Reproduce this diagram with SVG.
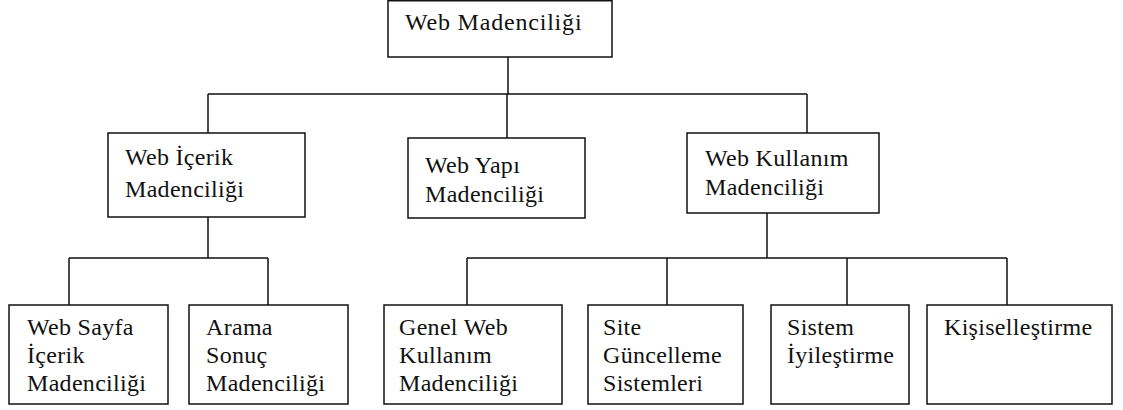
<svg xmlns="http://www.w3.org/2000/svg" width="1123" height="410" viewBox="0 0 1123 410">
<style>
.box{fill:#fff;stroke:#111;stroke-width:1.5}
.conn{fill:none;stroke:#111;stroke-width:1.5}
</style>
<rect width="1123" height="410" fill="#fff"/>
<g id="connectors" class="conn">
<path d="M508 57V94M208 94H807M208 94V133M507 94V138M807 94V133"/>
<path d="M208 217V258M69 258H268M69 258V305M268 258V305"/>
<path d="M767 213V258M467 258H1007M467 258V305M667 258V305M847 258V305M1007 258V305"/>
</g>
<g font-family="Liberation Serif, Tinos, DejaVu Serif, serif" font-size="24" fill="#111" letter-spacing="0.3">
<g id="web-madenciligi"><rect class="box" x="388" y="0.75" width="224" height="56.25"/><text x="405" y="30" letter-spacing="0.8">Web Madenciliği</text></g>
<g id="web-icerik"><rect class="box" x="108" y="133" width="197" height="84"/><text x="125" y="165">Web İçerik</text><text x="125" y="197">Madenciliği</text></g>
<g id="web-yapi"><rect class="box" x="408" y="138" width="177" height="80"/><text x="425" y="173">Web Yapı</text><text x="425" y="202">Madenciliği</text></g>
<g id="web-kullanim"><rect class="box" x="687" y="133" width="192" height="80"/><text x="705" y="166">Web Kullanım</text><text x="705" y="195">Madenciliği</text></g>
<g id="web-sayfa"><rect class="box" x="9" y="305" width="159" height="99"/><text x="27" y="335">Web Sayfa</text><text x="27" y="363">İçerik</text><text x="27" y="391">Madenciliği</text></g>
<g id="arama"><rect class="box" x="189" y="305" width="159" height="99"/><text x="206" y="335">Arama</text><text x="206" y="363">Sonuç</text><text x="206" y="391">Madenciliği</text></g>
<g id="genel-web"><rect class="box" x="384" y="305" width="178" height="99"/><text x="399" y="335">Genel Web</text><text x="399" y="363">Kullanım</text><text x="399" y="391">Madenciliği</text></g>
<g id="site"><rect class="box" x="588" y="305" width="155" height="99"/><text x="603" y="335">Site</text><text x="603" y="363">Güncelleme</text><text x="603" y="391">Sistemleri</text></g>
<g id="sistem"><rect class="box" x="771" y="305" width="138" height="99"/><text x="787" y="335">Sistem</text><text x="787" y="363">İyileştirme</text></g>
<g id="kisisel"><rect class="box" x="927" y="305" width="185" height="99"/><text x="944" y="335">Kişiselleştirme</text></g>
</g>
</svg>
